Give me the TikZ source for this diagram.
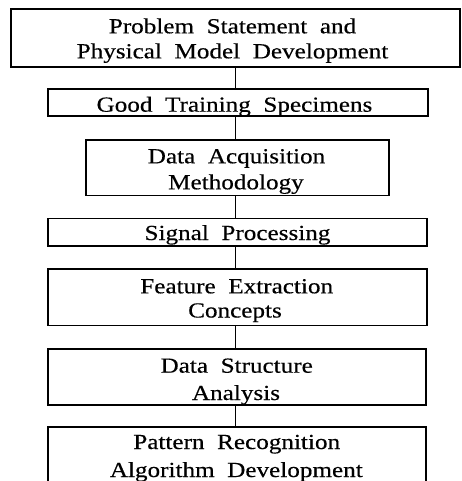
\documentclass[tikz,border=0pt]{standalone}
\usepackage{fontspec}
\setmainfont{Liberation Serif}[FakeStretch=1.17,WordSpace=2,FakeBold=0.4]
\begin{document}
\begin{tikzpicture}[x=1pt,y=-1pt,
  box/.style={draw, line width=1.2pt, rectangle, inner sep=0pt},
  txt/.style={anchor=base, inner sep=0pt, font=\fontsize{21.5}{24}\selectfont},
  link/.style={line width=1.5pt}]
\useasboundingbox (0,0) rectangle (461,481);
\clip (0,0) rectangle (461,481);
% boxes
\node[box, minimum width=449pt, minimum height=58pt]   (b1) at (235.5,38) {};
\node[box, minimum width=380pt, minimum height=27pt]   (b2) at (238,102.5) {};
\node[box, minimum width=303pt, minimum height=55.5pt] (b3) at (237.5,167.75) {};
\node[box, minimum width=379pt, minimum height=27.5pt] (b4) at (237.5,232.25) {};
\node[box, minimum width=379pt, minimum height=56.5pt] (b5) at (237.5,297.25) {};
\node[box, minimum width=378pt, minimum height=56pt]   (b6) at (237,377) {};
\node[box, minimum width=378pt, minimum height=57pt]   (b7) at (237,455.5) {};
% texts
\node[txt] (t1a) at (232.5,33.3) {Problem Statement and};
\node[txt] (t1b) at (232.5,58.3) {Physical Model Development};
\node[txt] (t2)  at (234.5,111.7) {Good Training Specimens};
\node[txt] (t3a) at (236.5,163.3) {Data Acquisition};
\node[txt] (t3b) at (236,189.3) {Methodology};
\node[txt] (t4)  at (237.5,240) {Signal Processing};
\node[txt] (t5a) at (236.7,293.3) {Feature Extraction};
\node[txt] (t5b) at (235,317.5) {Concepts};
\node[txt] (t6a) at (236.7,372.7) {Data Structure};
\node[txt] (t6b) at (236,400) {Analysis};
\node[txt] (t7a) at (236.7,449) {Pattern Recognition};
\node[txt] (t7b) at (236.3,477) {Algorithm Development};
% connectors
\draw[link] (b1.south) -- (b1.south |- b2.north);
\draw[link] (b2.south -| b1.south) -- (b3.north -| b1.south);
\draw[link] (b3.south -| b1.south) -- (b4.north -| b1.south);
\draw[link] (b4.south -| b1.south) -- (b5.north -| b1.south);
\draw[link] (b5.south -| b1.south) -- (b6.north -| b1.south);
\draw[link] (b6.south -| b1.south) -- (b7.north -| b1.south);
\end{tikzpicture}
\end{document}
